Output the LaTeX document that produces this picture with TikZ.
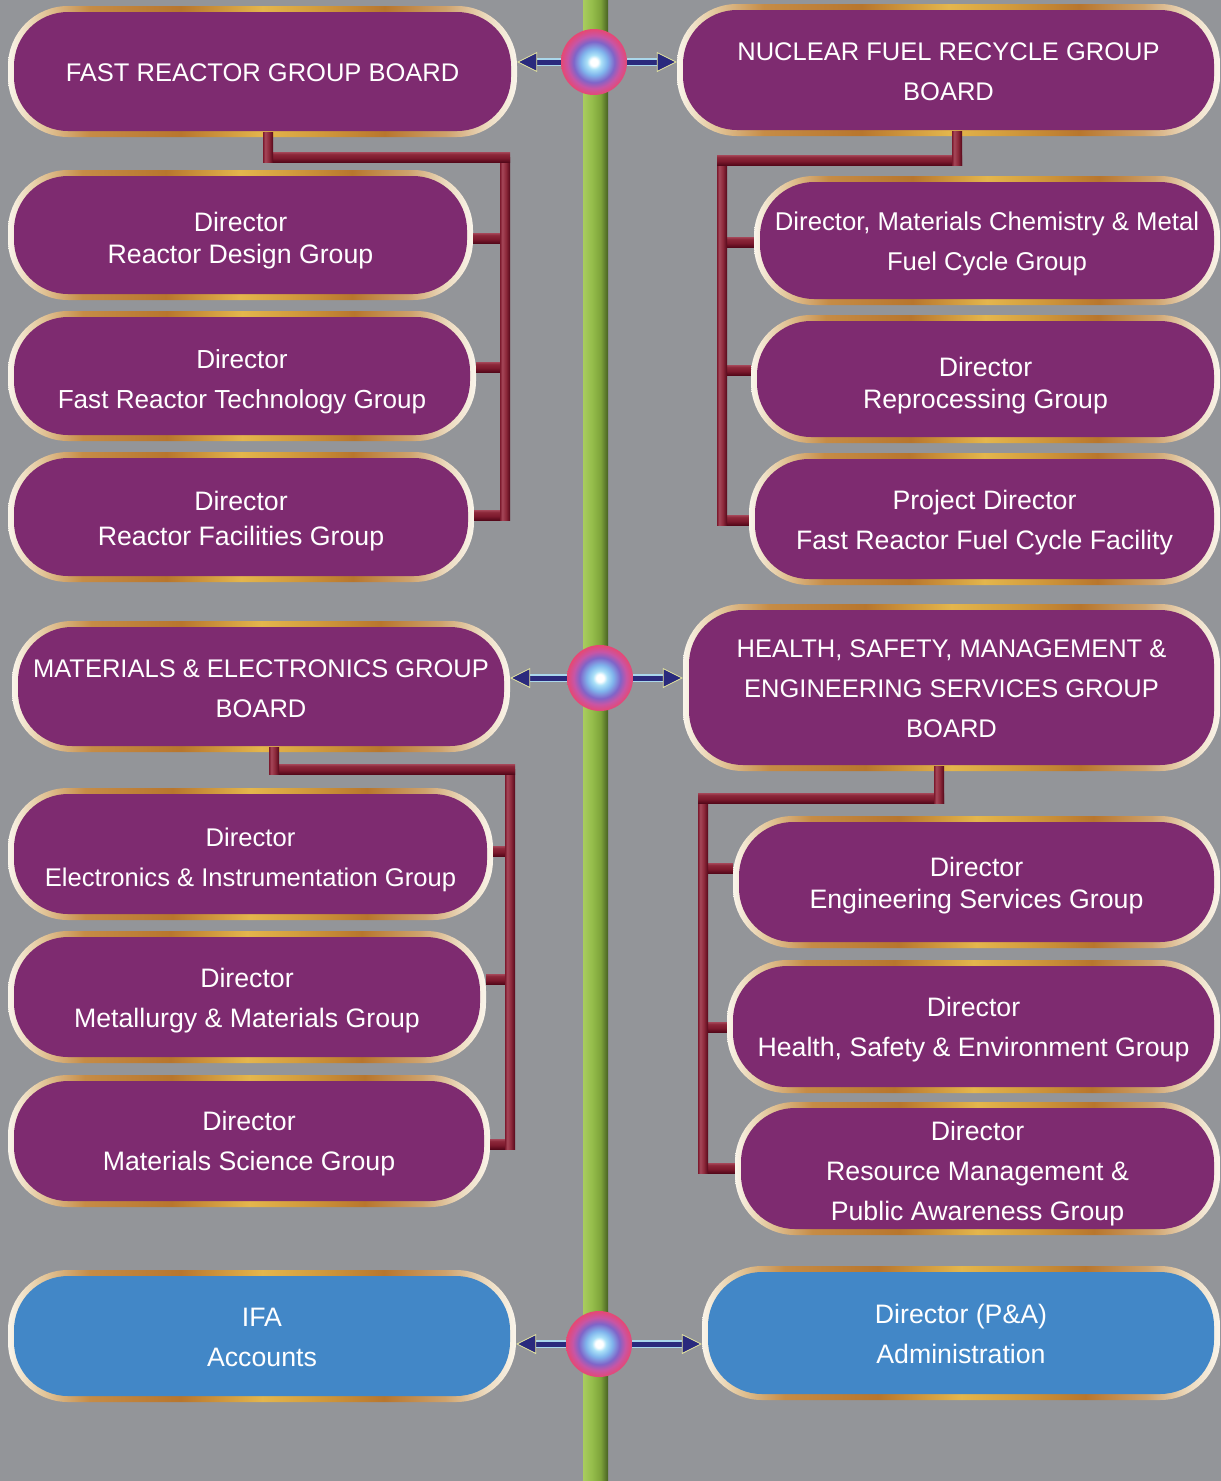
\documentclass[tikz,border=0pt]{standalone}
\usepackage{fontspec}
\setmainfont{Liberation Sans}
\usetikzlibrary{calc,arrows.meta}

% palette
\definecolor{bg}{RGB}{147,149,153}
\definecolor{purp}{RGB}{126,43,112}
\definecolor{blu}{RGB}{66,135,199}
\definecolor{navy}{RGB}{42,42,125}
\definecolor{shaftedge}{RGB}{170,215,235}
\definecolor{tipedge}{RGB}{232,232,160}
% frame of the boxes
\definecolor{rc0}{RGB}{250,245,235}
\definecolor{rc1}{RGB}{230,205,165}
\definecolor{rc2}{RGB}{198,140,70}
\definecolor{rc3}{RGB}{184,118,45}
\definecolor{rc4}{RGB}{228,182,76}
\definecolor{rc5}{RGB}{212,158,62}
\definecolor{rc6}{RGB}{206,162,108}
\definecolor{rc7}{RGB}{236,218,190}
% pole
\definecolor{pl0}{RGB}{168,204,94}
\definecolor{pl1}{RGB}{150,190,76}
\definecolor{pl2}{RGB}{126,164,58}
\definecolor{pl3}{RGB}{72,98,34}
% connector bars
\definecolor{br0}{RGB}{85,8,26}
\definecolor{br1}{RGB}{125,26,46}
\definecolor{br2}{RGB}{165,70,88}
\definecolor{br3}{RGB}{140,40,58}
% orbs
\definecolor{ob1}{RGB}{170,225,248}
\definecolor{ob2}{RGB}{128,180,236}
\definecolor{ob3}{RGB}{128,100,200}
\definecolor{ob4}{RGB}{200,85,165}
\definecolor{ob5}{RGB}{230,72,115}

\pgfdeclarehorizontalshading{ring}{100bp}{color(0bp)=(rc0); color(25bp)=(rc0);
  color(28bp)=(rc1); color(33bp)=(rc2); color(42bp)=(rc3); color(50bp)=(rc4);
  color(55bp)=(rc5); color(62bp)=(rc3); color(68bp)=(rc6); color(72bp)=(rc7);
  color(75bp)=(rc0); color(100bp)=(rc0)}
\pgfdeclarehorizontalshading{pole}{100bp}{color(0bp)=(pl0); color(25bp)=(pl0);
  color(42bp)=(pl1); color(60bp)=(pl2); color(75bp)=(pl3); color(100bp)=(pl3)}
% vertical bars: colour changes across the bar (left to right)
\pgfdeclarehorizontalshading{vsh}{100bp}{color(0bp)=(br1); color(25bp)=(br1);
  color(36bp)=(br2); color(55bp)=(br3); color(75bp)=(br0); color(100bp)=(br0)}
% horizontal bars: colour changes from bottom to top
\pgfdeclareverticalshading{hsh}{100bp}{color(0bp)=(br0); color(25bp)=(br0);
  color(45bp)=(br1); color(64bp)=(br3); color(75bp)=(br2); color(100bp)=(br2)}
\pgfdeclareradialshading{orb}{\pgfpoint{0bp}{0bp}}{color(0bp)=(white);
  color(2.8bp)=(white); color(5.5bp)=(ob1); color(10bp)=(ob2); color(15.5bp)=(ob3);
  color(20bp)=(ob4); color(25bp)=(ob5); color(50bp)=(ob5)}

% shaded connector pieces, 10pt thick
\newcommand\conV[2]{\shade[shading=vsh] let \p1=#1, \p2=#2 in (\x1-5pt,\y1) rectangle (\x2+5pt,\y2);}
\newcommand\conH[2]{\shade[shading=hsh] let \p1=#1, \p2=#2 in (\x1,\y1-5pt) rectangle (\x2,\y2+5pt);}
% invisible strut that sets the height of a first text line
\newcommand\lift[1]{\rule{0pt}{#1pt}}

\begin{document}
\begin{tikzpicture}[x=1pt,y=-1pt,
  pillfill/.store in=\pillfill, pillfill=purp,
  fs/.style 2 args={font=\fontsize{#1pt}{#2pt}\selectfont},
  pill/.style 2 args={rectangle, rounded corners=60pt, inner sep=0pt,
    minimum width=#1pt, minimum height=#2pt, shading=ring, pillfill=purp,
    path picture={\fill[\pillfill, rounded corners=54pt]
      ($(path picture bounding box.south west)+(6pt,6pt)$) rectangle
      ($(path picture bounding box.north east)-(6pt,6pt)$);},
    text=white, align=center, text depth=0pt, fs={26.7}{40}},
  orbnode/.style={circle, inner sep=0pt, minimum size=66pt, shading=orb},
  shaftline/.style={line width=7.5pt, draw=shaftedge, shorten >=14pt},
  arrowline/.style={line width=5pt, draw=navy,
    -{Triangle[length=20pt,width=20pt,line width=0.8pt,color=tipedge,fill=navy]}},
]
\useasboundingbox (0,0) rectangle (1221,1481);
\fill[bg] (0,0) rectangle (1221,1481);
\shade[shading=pole] (583,0) rectangle (608,1481);

% left column
\node[pill={509}{131}, fs={25.5}{40}] (fr) at (262.5,71.5) {\lift{20.3}FAST REACTOR GROUP BOARD};
\node[pill={465}{130}, fs={26.7}{32}] (rd) at (240.5,235) {\lift{25.1}Director\\Reactor Design Group};
\node[pill={468}{130}, fs={26.1}{40}] (frt) at (242,376) {\lift{24.7}Director\\Fast Reactor Technology Group};
\node[pill={466}{130}, fs={26.7}{35}] (rf) at (241,517) {\lift{21.1}Director\\Reactor Facilities Group};
\node[pill={498}{131}, fs={25.5}{40}] (me) at (261,686.5) {\lift{22.3}MATERIALS \& ELECTRONICS GROUP\\BOARD};
\node[pill={485}{132}, fs={25.6}{40}] (ei) at (250.5,854) {\lift{24.3}Director\\Electronics \& Instrumentation Group};
\node[pill={478}{132}] (mm) at (247,997) {\lift{21.1}Director\\Metallurgy \& Materials Group};
\node[pill={482}{132}] (ms) at (249,1141) {Director\\Materials Science Group};
\node[pill={508}{132}, pillfill=blu] (ifa) at (262,1336) {\lift{21.1}IFA\\Accounts};

% right column
\node[pill={543}{132}, fs={25.5}{40}] (nf) at (948.5,70) {\lift{20.3}NUCLEAR FUEL RECYCLE GROUP\\BOARD};
\node[pill={466}{129}, fs={25.7}{40}] (mc) at (987,240.5) {\lift{20.4}Director, Materials Chemistry \& Metal\\Fuel Cycle Group};
\node[pill={469}{128}, fs={26.7}{32}] (rp) at (985.5,379) {\lift{27.1}Director\\Reprocessing Group};
\node[pill={471}{132}] (pd) at (984.5,519) {\lift{21.1}Project Director\\Fast Reactor Fuel Cycle Facility};
\node[pill={537}{167}, fs={25.5}{40}] (hs) at (951.5,687.5) {\lift{20.6}HEALTH, SAFETY, MANAGEMENT \&\\ENGINEERING SERVICES GROUP\\BOARD};
\node[pill={487}{132}, fs={26.7}{32}] (es) at (976.5,882) {\lift{21.1}Director\\Engineering Services Group};
\node[pill={493}{133}] (hse) at (973.5,1026.5) {Director\\Health, Safety \& Environment Group};
\node[pill={485}{133}] (rm) at (977.5,1168.5) {\lift{23.1}Director\\Resource Management \&\\Public Awareness Group};
\node[pill={518}{134}, pillfill=blu] (pa) at (961,1333) {\lift{21.4}Director (P\&A)\\Administration};

% fast reactor group
\coordinate (As) at ([xshift=5.5pt,yshift=5pt]fr.south);
\coordinate (Ah) at (505,157);
\coordinate (Ab) at (505,520);
\conH{(rd.east |- 0,238)}{(Ah |- 0,238)}
\conH{(frt.east |- 0,367)}{(Ah |- 0,367)}
\conH{(rf.east |- 0,515)}{(Ah |- 0,515)}
\conV{(Ah)}{(Ab)}
\conH{($(As |- Ah)+(-5,0)$)}{($(Ah)+(5,0)$)}
\conV{(As)}{($(As |- Ah)+(0,5)$)}

% nuclear fuel recycle group
\coordinate (Bs) at ([xshift=8.5pt,yshift=5pt]nf.south);
\coordinate (Bh) at (722,160);
\coordinate (Bb) at (722,525);
\conH{(Bh |- 0,242)}{(mc.west |- 0,242)}
\conH{(Bh |- 0,370)}{(rp.west |- 0,370)}
\conH{(Bh |- 0,520)}{(pd.west |- 0,520)}
\conV{(Bh)}{(Bb)}
\conH{($(Bh)+(-5,0)$)}{($(Bs |- Bh)+(5,0)$)}
\conV{(Bs)}{($(Bs |- Bh)+(0,5)$)}

% materials & electronics group
\coordinate (Cs) at ([xshift=13pt,yshift=5pt]me.south);
\coordinate (Ch) at (510,769);
\coordinate (Cb) at (510,1149);
\conH{(ei.east |- 0,851)}{(Ch |- 0,851)}
\conH{(mm.east |- 0,979)}{(Ch |- 0,979)}
\conH{(ms.east |- 0,1144)}{(Ch |- 0,1144)}
\conV{(Ch)}{(Cb)}
\conH{($(Cs |- Ch)+(-5,0)$)}{($(Ch)+(5,0)$)}
\conV{(Cs)}{($(Cs |- Ch)+(0,5)$)}

% health, safety, management & engineering services group
\coordinate (Ds) at ([xshift=-12.5pt,yshift=5pt]hs.south);
\coordinate (Dh) at (703,798);
\coordinate (Db) at (703,1173);
\conH{(Dh |- 0,868)}{(es.west |- 0,868)}
\conH{(Dh |- 0,1027)}{(hse.west |- 0,1027)}
\conH{(Dh |- 0,1168)}{(rm.west |- 0,1168)}
\conV{(Dh)}{(Db)}
\conH{($(Dh)+(-5,0)$)}{($(Ds |- Dh)+(5,0)$)}
\conV{(Ds)}{($(Ds |- Dh)+(0,5)$)}

% hubs on the pole and their double arrows
\coordinate (c1) at (594,62);
\coordinate (c2) at (600,678);
\coordinate (c3) at (599,1344);
\foreach \c/\l/\r in {c1/fr/nf, c2/me/hs, c3/ifa/pa}{
  \draw[shaftline] (\c) -- (\l.east |- \c);
  \draw[shaftline] (\c) -- (\r.west |- \c);
  \draw[arrowline] (\c) -- (\l.east |- \c);
  \draw[arrowline] (\c) -- (\r.west |- \c);
}
\node[orbnode] (o1) at (c1) {};
\node[orbnode] (o2) at (c2) {};
\node[orbnode] (o3) at (c3) {};
\end{tikzpicture}
\end{document}
